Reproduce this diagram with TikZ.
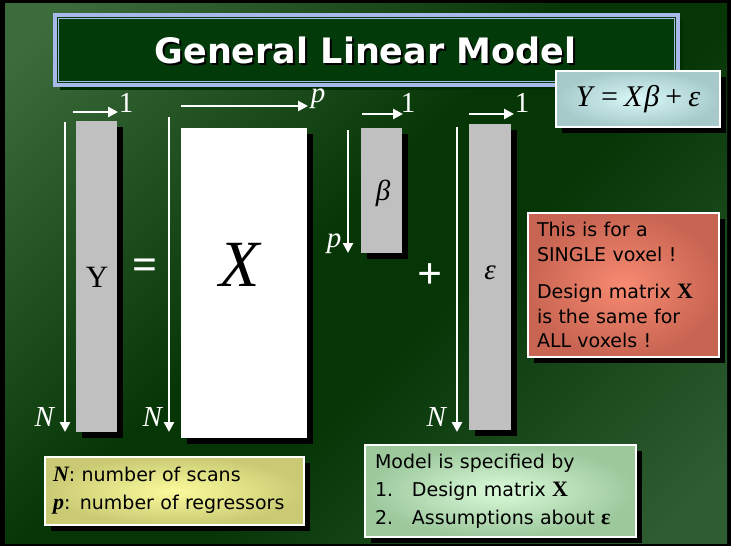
\documentclass[tikz,border=0pt]{standalone}
\usepackage{fontspec}
\setmainfont{Liberation Serif}
\setsansfont{DejaVu Sans}
\usetikzlibrary{arrows.meta,shadows}
\definecolor{bgL}{HTML}{3C6C3C}
\definecolor{bgD}{HTML}{063606}
\definecolor{bgR}{HTML}{2F5E33}
\definecolor{titlefill}{HTML}{033A0A}
\definecolor{titleframe}{HTML}{A8B8E8}
\definecolor{matgray}{HTML}{C0C0C0}
\definecolor{redIn}{HTML}{F78A72}
\definecolor{redOut}{HTML}{C86552}
\definecolor{yelIn}{HTML}{FBFB9C}
\definecolor{yelOut}{HTML}{CACA74}
\definecolor{grnIn}{HTML}{DAFADA}
\definecolor{grnOut}{HTML}{9CC89C}
\definecolor{eqIn}{HTML}{DAF8F8}
\definecolor{eqOut}{HTML}{A6CACA}
\pgfdeclareverticalshading{bgshade}{100bp}{color(0bp)=(bgR); color(18bp)=(bgR); color(44bp)=(bgD); color(54bp)=(bgD); color(82bp)=(bgL); color(100bp)=(bgL)}
\begin{document}
\begin{tikzpicture}[x=1pt,y=-1pt,
  shad/.style={general shadow={fill=black, shadow xshift=6pt, shadow yshift=-6pt}},
  mat/.style={rectangle, fill=matgray, inner sep=0pt, shad},
  warrow/.style={white, line width=2.6pt, -{Triangle[length=10pt,width=10pt]}},
  lab/.style={text=white, inner sep=0pt, font=\fontsize{29}{30}\selectfont},
  inlab/.style={text=black, inner sep=0pt, font=\fontsize{29}{30}\selectfont},
  opsym/.style={text=white, inner sep=0pt, font=\bfseries\fontsize{44}{46}\selectfont},
  infobox/.style={rectangle, draw=white, line width=1.5pt, shad, align=left,
     inner ysep=0pt, font=\sffamily\fontsize{19}{28}\selectfont, text=black}
]
\useasboundingbox (0,0) rectangle (731,546);
\fill[black] (0,0) rectangle (731,546);
\shade[shading=bgshade, shading angle=45] (5,3) rectangle (727,543);

% title
\node[rectangle, fill=titlefill, draw=titleframe, line width=3.5pt, minimum width=623pt, minimum height=70pt,
      general shadow={fill=black!70!green!60!black, shadow xshift=5pt, shadow yshift=-5pt}] (title) at (366.5,50) {};
\draw[titleframe, line width=1pt] ([shift={(5,5)}]title.north west) rectangle ([shift={(-5,-5)}]title.south east);
\node[text=black, font=\sffamily\bfseries\fontsize{35}{40}\selectfont] (titleshadow) at (367.5,52) {General Linear Model};
\node[text=white, font=\sffamily\bfseries\fontsize{35}{40}\selectfont] (titletext) at (365.5,50) {General Linear Model};

% equation box
\node[rectangle, draw=white, line width=1.5pt, inner color=eqIn, outer color=eqOut, shad,
      minimum width=164pt, minimum height=56pt, font=\fontsize{30}{32}\selectfont] (eq) at (638,99)
      {\textit{Y}\kern6pt=\kern6pt\textit{X}\kern1pt\textit{β}\kern6pt+\kern6pt\textit{ε}};

% matrices
\node[mat, minimum width=41pt, minimum height=311pt] (Ymat) at (96.5,276.5) {};
\node[mat, fill=white, minimum width=126pt, minimum height=310pt] (Xmat) at (244,283) {};
\node[mat, minimum width=41pt, minimum height=125pt] (Bmat) at (381.5,190.5) {};
\node[mat, minimum width=42pt, minimum height=306pt] (Emat) at (490,277) {};

\node[inlab, font=\fontsize{31}{32}\selectfont] (Ylab) at (97,277) {Y};
\node[inlab, font=\itshape\fontsize{66}{70}\selectfont] (Xlab) at (240,265) {X};
\node[inlab] (Blab) at (383,193) {\textit{β}};
\node[inlab] (Elab) at (490,273) {\textit{ε}};

\node[opsym] (eqsign) at (145,269) {=};
\node[opsym] (plus) at (430,276) {+};

% arrows for Y
\coordinate (yv1) at (65,122); \coordinate (yv2) at (65,432);
\coordinate (yh1) at (73,112); \coordinate (yh2) at (118,112);
\draw[warrow] (yv1) -- (yv2);
\draw[warrow] (yh1) -- (yh2);
\node[lab] (yN) at (45,417) {\textit{N}};
\node[lab] (y1) at (126,103) {1};

% arrows for X
\coordinate (xv1) at (169,117); \coordinate (xv2) at (169,432);
\coordinate (xh1) at (181,106); \coordinate (xh2) at (308,106);
\draw[warrow] (xv1) -- (xv2);
\draw[warrow] (xh1) -- (xh2);
\node[lab] (xN) at (153,417) {\textit{N}};
\node[lab] (xp) at (318,99) {\textit{p}};

% arrows for beta
\coordinate (bv1) at (348,130); \coordinate (bv2) at (348,253);
\coordinate (bh1) at (362,114); \coordinate (bh2) at (403,114);
\draw[warrow] (bv1) -- (bv2);
\draw[warrow] (bh1) -- (bh2);
\node[lab] (bp) at (334,244) {\textit{p}};
\node[lab] (b1) at (408,103) {1};

% arrows for epsilon
\coordinate (ev1) at (457,127); \coordinate (ev2) at (457,432);
\coordinate (eh1) at (469,114); \coordinate (eh2) at (514,114);
\draw[warrow] (ev1) -- (ev2);
\draw[warrow] (eh1) -- (eh2);
\node[lab] (eN) at (437,417) {\textit{N}};
\node[lab] (e1) at (522,103) {1};

% info boxes
\node[infobox, inner color=redIn, outer color=redOut, inner xsep=9pt, text width=173pt,
      minimum width=191pt, minimum height=144pt, font=\sffamily\fontsize{19}{24.5}\selectfont] (note) at (623.5,285)
  {This is for a\\SINGLE voxel !\\[13pt]Design matrix {\rmfamily\bfseries\fontsize{22}{24}\selectfont X}\\is the same for\\ALL voxels !};

\node[infobox, inner color=yelIn, outer color=yelOut, inner xsep=8pt, text width=243pt,
      minimum width=259pt, minimum height=68pt] (legend) at (174.5,491)
  {{\rmfamily\bfseries\itshape\fontsize{22}{24}\selectfont N}: number of scans\\{\rmfamily\bfseries\itshape\fontsize{22}{24}\selectfont p}: number of regressors};

\node[infobox, inner color=grnIn, outer color=grnOut, inner xsep=10pt, text width=251pt,
      minimum width=271pt, minimum height=92pt] (spec) at (500.5,491)
  {Model is specified by\\\makebox[37pt][l]{1.}Design matrix {\rmfamily\bfseries\fontsize{22}{24}\selectfont X}\\\makebox[37pt][l]{2.}Assumptions about {\rmfamily\bfseries\fontsize{22}{24}\selectfont ε}};
\end{tikzpicture}
\end{document}
